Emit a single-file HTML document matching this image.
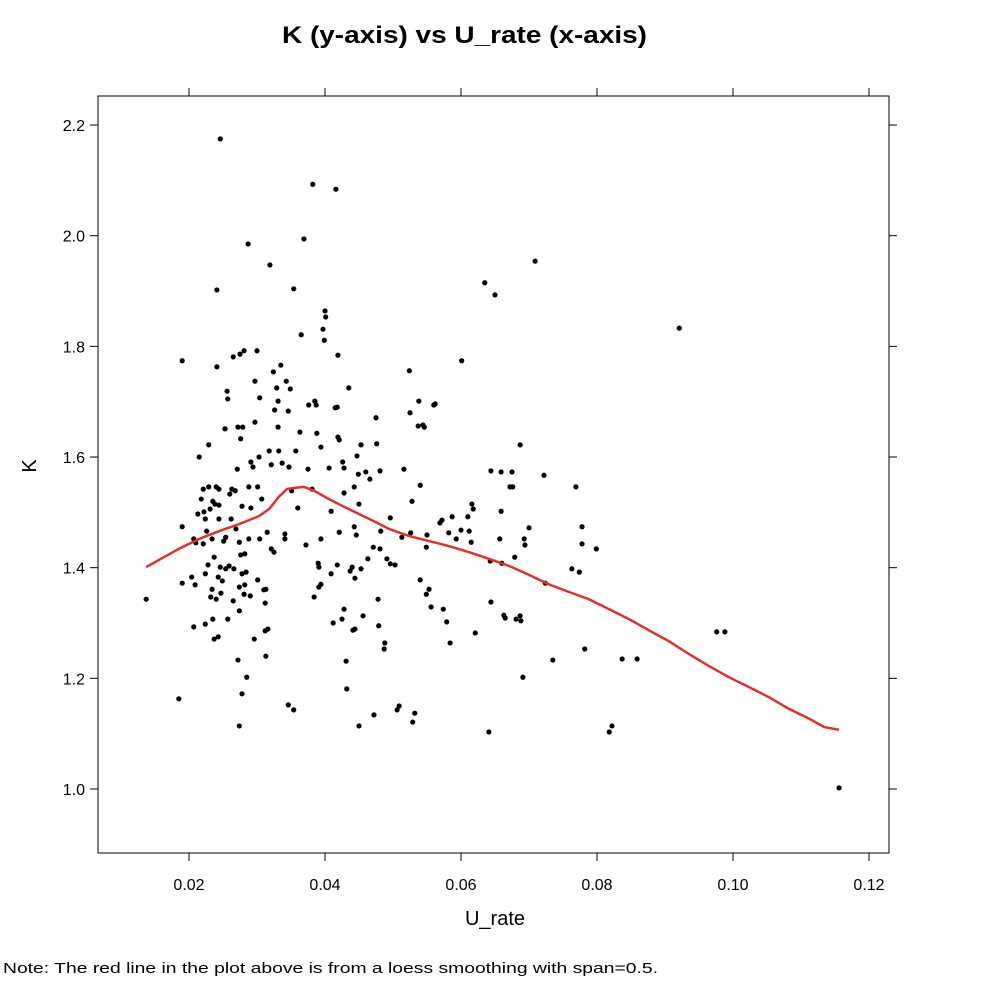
<!DOCTYPE html>
<html><head><meta charset="utf-8"><style>
body{margin:0;background:#fff;width:983px;height:984px;overflow:hidden;font-family:"Liberation Sans",sans-serif}
</style></head><body>
<svg id="chart" width="983" height="984" xmlns="http://www.w3.org/2000/svg" font-family="Liberation Sans, sans-serif">
<text x="282" y="43" textLength="365" lengthAdjust="spacingAndGlyphs" font-size="24" font-weight="bold">K (y-axis) vs U_rate (x-axis)</text>
<rect x="98" y="96" width="791" height="757" fill="none" stroke="#000" stroke-width="1"/>
<g id="axes"></g>
<g id="points"></g>
<path id="loess" fill="none" stroke="#e0312b" stroke-width="2.5"/>
<text x="495" y="925" text-anchor="middle" font-size="20">U_rate</text>
<text x="0" y="0" transform="translate(36,466) rotate(-90)" text-anchor="middle" font-size="20">K</text>
<text x="3" y="973" font-size="15" textLength="655" lengthAdjust="spacingAndGlyphs">Note: The red line in the plot above is from a loess smoothing with span=0.5.</text>
</svg>
<script>
const xTicks=[0.02,0.04,0.06,0.08,0.10,0.12];
const xTickLabels=["0.02","0.04","0.06","0.08","0.10","0.12"];
const yTicks=[1.0,1.2,1.4,1.6,1.8,2.0,2.2];
const yTickLabels=["1.0","1.2","1.4","1.6","1.8","2.0","2.2"];
const uRate=[.0137,.0185,.0190,.0190,.0190,.0204,.0207,.0209,.0207,.0213,.0210,.0215,.0218,.0221,.0221,.0222,.0224,.0224,.0224,.0226,.0228,.0229,.0229,.0231,.0232,.0234,.0234,.0235,.0235,.0237,.0237,.0238,.0240,.0240,.0241,.0241,.0243,.0243,.0244,.0244,.0244,.0246,.0247,.0246,.0249,.0251,.0253,.0254,.0254,.0256,.0257,.0257,.0259,.0260,.0262,.0263,.0265,.0265,.0266,.0268,.0269,.0271,.0272,.0272,.0274,.0274,.0274,.0274,.0275,.0276,.0276,.0278,.0278,.0278,.0279,.0281,.0281,.0282,.0282,.0284,.0285,.0287,.0288,.0288,.0290,.0291,.0291,.0294,.0296,.0297,.0297,.0300,.0301,.0301,.0303,.0304,.0304,.0307,.0310,.0312,.0313,.0312,.0313,.0315,.0316,.0318,.0319,.0321,.0321,.0324,.0325,.0326,.0329,.0331,.0331,.0332,.0335,.0337,.0341,.0341,.0343,.0346,.0346,.0347,.0349,.0351,.0354,.0354,.0357,.0360,.0363,.0365,.0369,.0372,.0375,.0376,.0381,.0382,.0384,.0385,.0387,.0388,.0390,.0391,.0391,.0394,.0394,.0394,.0397,.0399,.0400,.0401,.0406,.0409,.0409,.0412,.0415,.0416,.0418,.0418,.0419,.0419,.0421,.0421,.0425,.0426,.0428,.0428,.0428,.0431,.0432,.0435,.0437,.0440,.0441,.0443,.0443,.0444,.0444,.0446,.0447,.0449,.0450,.0450,.0453,.0453,.0456,.0460,.0463,.0466,.0471,.0472,.0475,.0476,.0478,.0479,.0481,.0481,.0482,.0487,.0488,.0491,.0496,.0496,.0503,.0506,.0509,.0513,.0516,.0524,.0525,.0526,.0528,.0529,.0532,.0537,.0538,.0540,.0540,.0544,.0546,.0549,.0549,.0550,.0553,.0556,.0560,.0562,.0569,.0572,.0574,.0579,.0582,.0584,.0587,.0593,.0600,.0601,.0610,.0612,.0615,.0616,.0618,.0621,.0635,.0641,.0643,.0644,.0644,.0650,.0657,.0659,.0659,.0660,.0663,.0665,.0672,.0675,.0676,.0679,.0681,.0687,.0687,.0688,.0691,.0693,.0694,.0700,.0709,.0722,.0724,.0735,.0763,.0769,.0774,.0778,.0778,.0782,.0799,.0818,.0822,.0837,.0859,.0921,.0976,.0988,.1156];
const kValues=[1.343,1.163,1.774,1.474,1.372,1.383,1.293,1.369,1.452,1.497,1.445,1.600,1.524,1.542,1.443,1.501,1.488,1.298,1.389,1.466,1.405,1.546,1.622,1.506,1.347,1.452,1.361,1.520,1.307,1.419,1.271,1.515,1.343,1.546,1.902,1.763,1.383,1.275,1.488,1.542,1.513,1.401,1.354,2.175,1.376,1.448,1.651,1.398,1.455,1.719,1.307,1.705,1.403,1.533,1.488,1.542,1.781,1.340,1.398,1.539,1.470,1.578,1.654,1.233,1.114,1.322,1.446,1.365,1.786,1.423,1.633,1.172,1.511,1.389,1.654,1.792,1.352,1.369,1.425,1.392,1.202,1.985,1.546,1.452,1.349,1.508,1.591,1.582,1.271,1.737,1.663,1.792,1.378,1.546,1.600,1.707,1.452,1.524,1.360,1.286,1.361,1.336,1.240,1.464,1.289,1.611,1.947,1.434,1.586,1.754,1.428,1.685,1.725,1.701,1.654,1.611,1.766,1.589,1.452,1.461,1.737,1.152,1.683,1.582,1.723,1.539,1.143,1.904,1.611,1.508,1.645,1.821,1.994,1.441,1.578,1.694,1.542,2.093,1.347,1.701,1.694,1.643,1.408,1.365,1.401,1.370,1.618,1.452,1.831,1.811,1.864,1.853,1.580,1.389,1.502,1.300,1.689,2.084,1.690,1.405,1.784,1.636,1.631,1.464,1.307,1.591,1.580,1.535,1.325,1.231,1.181,1.725,1.394,1.401,1.287,1.546,1.474,1.289,1.381,1.459,1.602,1.569,1.114,1.515,1.398,1.622,1.313,1.573,1.416,1.560,1.437,1.134,1.671,1.624,1.343,1.295,1.575,1.434,1.466,1.253,1.264,1.416,1.490,1.407,1.405,1.143,1.150,1.455,1.578,1.756,1.680,1.463,1.520,1.121,1.137,1.656,1.701,1.378,1.549,1.658,1.654,1.352,1.437,1.459,1.361,1.329,1.694,1.696,1.481,1.486,1.325,1.302,1.463,1.264,1.492,1.452,1.468,1.774,1.492,1.466,1.446,1.515,1.506,1.282,1.915,1.103,1.412,1.575,1.338,1.893,1.452,1.573,1.502,1.408,1.314,1.309,1.546,1.573,1.546,1.419,1.307,1.313,1.622,1.304,1.202,1.452,1.441,1.472,1.954,1.567,1.372,1.233,1.398,1.546,1.392,1.474,1.443,1.253,1.434,1.103,1.114,1.235,1.235,1.833,1.284,1.284,1.002];
const loessU=[.0137,.0163,.0185,.0215,.0244,.0274,.0303,.0318,.0332,.0344,.0354,.0369,.0384,.0406,.0428,.0450,.0472,.0494,.0524,.0553,.0582,.0612,.0641,.0671,.0700,.0729,.0759,.0788,.0818,.0847,.0876,.0906,.0935,.0965,.0994,.1024,.1053,.1082,.1112,.1134,.1156];
const loessK=[1.401,1.419,1.434,1.452,1.466,1.479,1.493,1.506,1.528,1.542,1.544,1.546,1.539,1.524,1.510,1.497,1.484,1.470,1.457,1.448,1.439,1.428,1.416,1.403,1.387,1.370,1.356,1.343,1.325,1.307,1.287,1.267,1.244,1.222,1.202,1.184,1.166,1.145,1.127,1.112,1.107];

const NS="http://www.w3.org/2000/svg";
const X0=98,X1=889,Y0=96,Y1=853;
function xs(v){return 189+(v-0.02)*6800;}
function ys(v){return 789-(v-1.0)*553.3;}
function mk(tag,attrs,parent){const e=document.createElementNS(NS,tag);for(const k in attrs)e.setAttribute(k,attrs[k]);parent.appendChild(e);return e;}
const axes=document.getElementById('axes');
xTicks.forEach((t,i)=>{
  const x=xs(t);
  let l=mk('line',{x1:x,x2:x,y1:Y1,y2:Y1+8,stroke:'#000'},axes);
  
  
  let l2=mk('line',{x1:x,x2:x,y1:Y0,y2:Y0-8,stroke:'#000'},axes);
  
  
  let tx=mk('text',{x:x,y:Y1+37,'text-anchor':'middle','font-size':'16'},axes);
  tx.textContent=xTickLabels[i];
  
  
});
yTicks.forEach((t,i)=>{
  const y=ys(t);
  let l=mk('line',{x1:X0,x2:X0-8,y1:y,y2:y,stroke:'#000'},axes);
  
  
  let l2=mk('line',{x1:X1,x2:X1+8,y1:y,y2:y,stroke:'#000'},axes);
  
  
  let tx=mk('text',{x:X0-13,y:y+6,'text-anchor':'end','font-size':'16'},axes);
  tx.textContent=yTickLabels[i];
  
  
});
const pts=document.getElementById('points');
uRate.forEach((u,i)=>{
  let c=mk('circle',{cx:xs(u),cy:ys(kValues[i]),r:2.6,fill:'#000'},pts);
  
  
});
document.getElementById('loess').setAttribute('d',loessU.map((u,i)=>(i?'L':'M')+xs(u).toFixed(1)+','+ys(loessK[i]).toFixed(1)).join(''));
</script>
</body></html>
